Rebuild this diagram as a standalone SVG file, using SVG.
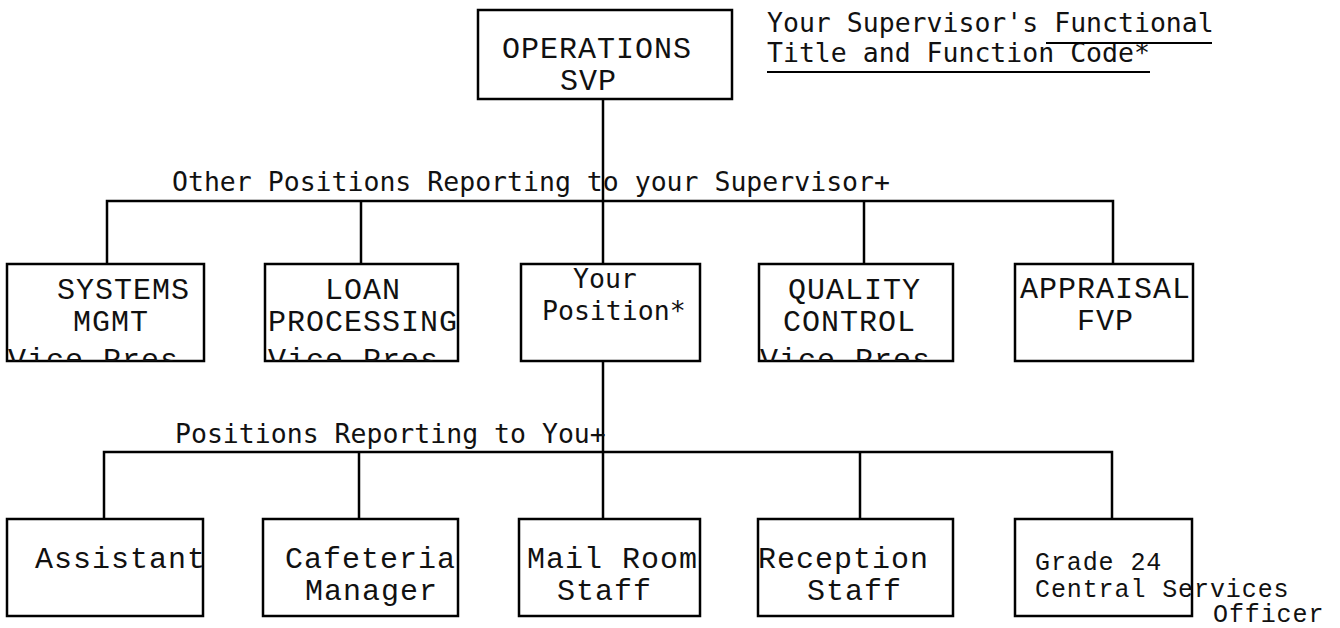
<svg xmlns="http://www.w3.org/2000/svg" width="1340" height="628" viewBox="0 0 1340 628">
  <style>
    .box { fill: none; stroke: #000; stroke-width: 2.5; }
    .conn { fill: none; stroke: #000; stroke-width: 2.5; }
    .tw { font-family: "Liberation Mono", "Courier New", monospace; font-size: 30px; letter-spacing: 1px; fill: #111; }
    .tws { font-family: "Liberation Mono", "Courier New", monospace; font-size: 25px; letter-spacing: 0.9px; fill: #111; }
    .lg { font-family: "DejaVu Sans Mono", "Liberation Mono", monospace; font-size: 26.5px; fill: #111; }
    .ul { stroke: #000; stroke-width: 2; }
  </style>
  <defs>
    <clipPath id="row1clip"><rect x="0" y="0" width="1340" height="361"/></clipPath>
  </defs>
  <rect width="1340" height="628" fill="#fff"/>

  <g id="connectors">
    <path class="conn" d="M603 99 V264"/>
    <path class="conn" d="M107 264 V201 H1113 V264"/>
    <path class="conn" d="M361 201 V264"/>
    <path class="conn" d="M864 201 V264"/>
    <path class="conn" d="M603 361 V519"/>
    <path class="conn" d="M104 519 V452 H1112 V519"/>
    <path class="conn" d="M359 452 V519"/>
    <path class="conn" d="M860 452 V519"/>
  </g>

  <g id="labels">
    <text class="lg" x="767" y="32">Your Supervisor's Functional</text>
    <text class="lg" x="767" y="62">Title and Function Code*</text>
    <line class="ul" x1="1046" y1="43" x2="1212" y2="43"/>
    <line class="ul" x1="767" y1="72" x2="1150" y2="72"/>
    <text class="lg" x="172" y="191">Other Positions Reporting to your Supervisor+</text>
    <text class="lg" x="175" y="443">Positions Reporting to You+</text>
  </g>

  <g id="node-operations">
    <rect class="box" x="478" y="10" width="254" height="89"/>
    <text class="tw" x="502" y="58">OPERATIONS</text>
    <text class="tw" x="560" y="90">SVP</text>
  </g>

  <g id="node-systems">
    <rect class="box" x="7" y="264" width="197" height="97"/>
    <text class="tw" x="57" y="299">SYSTEMS</text>
    <text class="tw" x="73" y="331">MGMT</text>
    <text class="tw" x="8" y="369" clip-path="url(#row1clip)">Vice Pres.</text>
  </g>

  <g id="node-loan">
    <rect class="box" x="265" y="264" width="193" height="97"/>
    <text class="tw" x="325" y="299">LOAN</text>
    <text class="tw" x="268" y="331">PROCESSING</text>
    <text class="tw" x="268" y="369" clip-path="url(#row1clip)">Vice Pres.</text>
  </g>

  <g id="node-your-position">
    <rect class="box" x="521" y="264" width="179" height="97"/>
    <text class="lg" x="573" y="288">Your</text>
    <text class="lg" x="542" y="320">Position*</text>
  </g>

  <g id="node-quality">
    <rect class="box" x="759" y="264" width="194" height="97"/>
    <text class="tw" x="788" y="299">QUALITY</text>
    <text class="tw" x="783" y="331">CONTROL</text>
    <text class="tw" x="760" y="369" clip-path="url(#row1clip)">Vice Pres.</text>
  </g>

  <g id="node-appraisal">
    <rect class="box" x="1015" y="264" width="178" height="97"/>
    <text class="tw" x="1020" y="298">APPRAISAL</text>
    <text class="tw" x="1077" y="330">FVP</text>
  </g>

  <g id="node-assistant">
    <rect class="box" x="7" y="519" width="196" height="97"/>
    <text class="tw" x="35" y="568">Assistant</text>
  </g>

  <g id="node-cafeteria">
    <rect class="box" x="263" y="519" width="195" height="97"/>
    <text class="tw" x="285" y="568">Cafeteria</text>
    <text class="tw" x="305" y="600">Manager</text>
  </g>

  <g id="node-mailroom">
    <rect class="box" x="519" y="519" width="181" height="97"/>
    <text class="tw" x="527" y="568">Mail Room</text>
    <text class="tw" x="557" y="600">Staff</text>
  </g>

  <g id="node-reception">
    <rect class="box" x="758" y="519" width="195" height="97"/>
    <text class="tw" x="758" y="568">Reception</text>
    <text class="tw" x="807" y="600">Staff</text>
  </g>

  <g id="node-grade24">
    <rect class="box" x="1015" y="519" width="177" height="97"/>
    <text class="tws" x="1035" y="570">Grade 24</text>
    <text class="tws" x="1035" y="597">Central Services</text>
    <text class="tws" x="1213" y="622">Officer</text>
  </g>
</svg>
